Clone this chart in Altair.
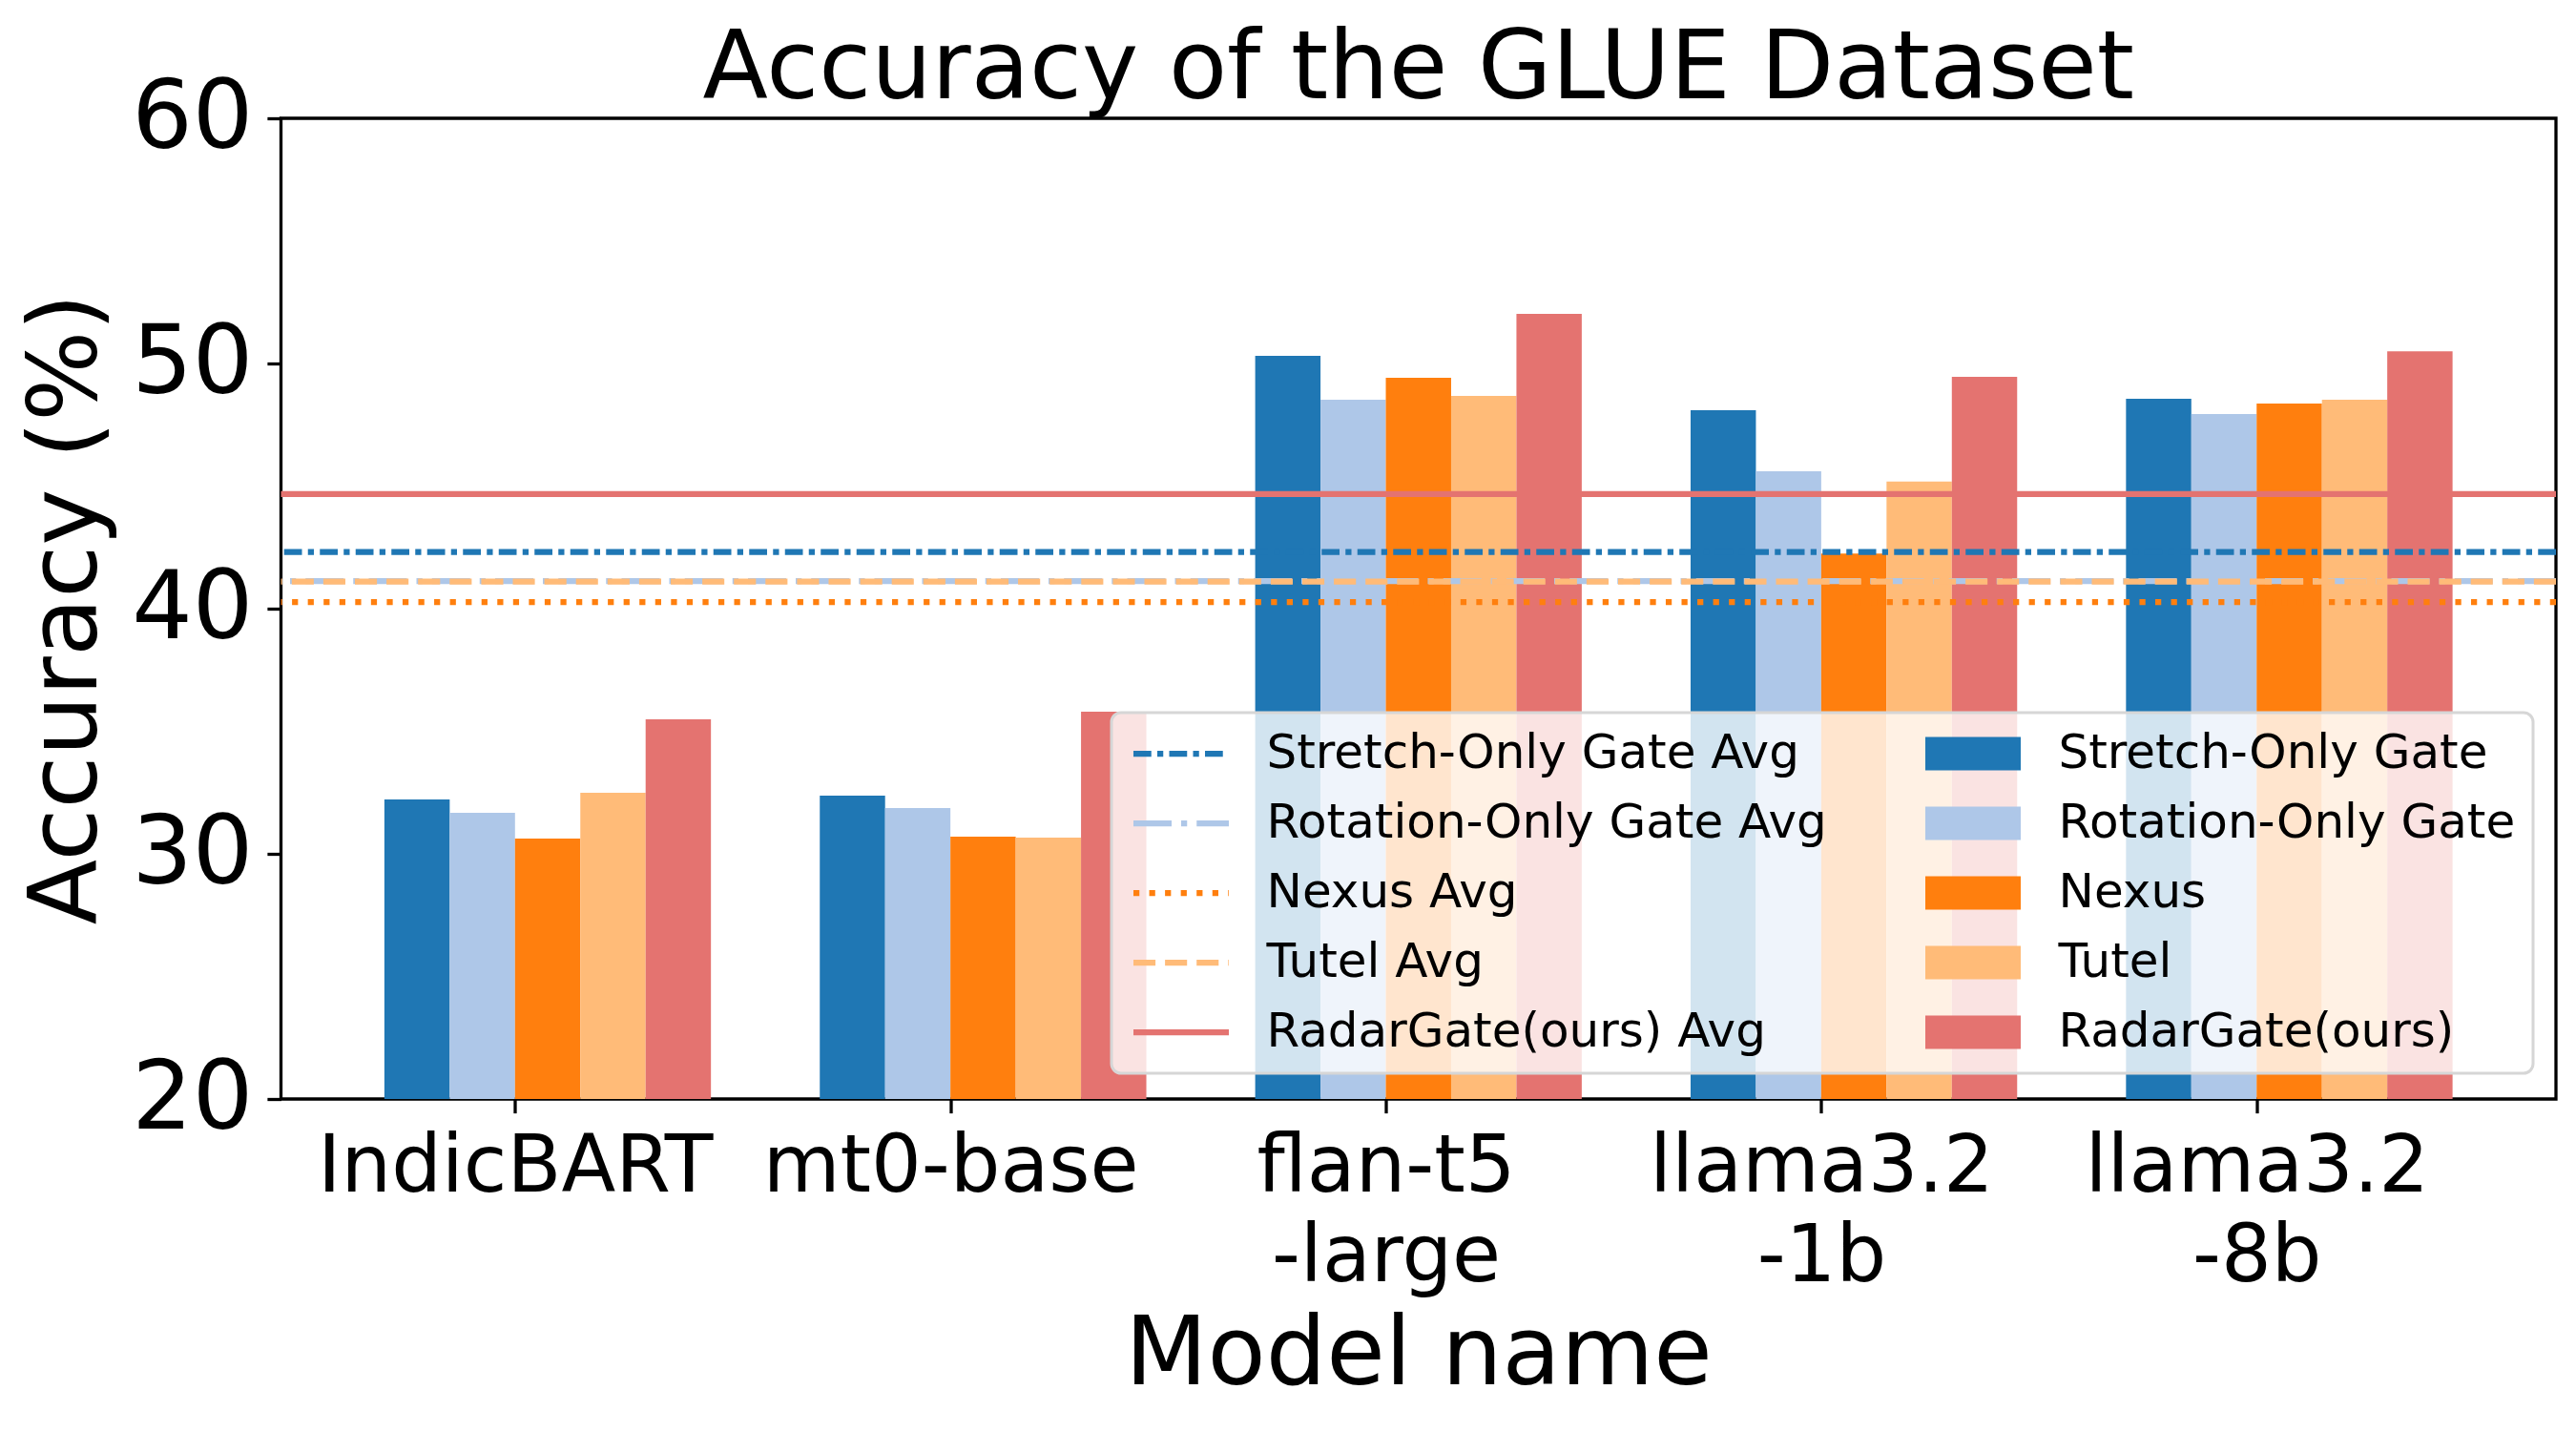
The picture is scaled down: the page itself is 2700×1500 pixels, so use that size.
import json
import altair as alt
import pandas as pd

# ---- data ----
model_names = ["IndicBART", "mt0-base", "flan-t5-large", "llama3.2-1b", "llama3.2-8b"]
model_lines = [["IndicBART"], ["mt0-base"], ["flan-t5", "-large"], ["llama3.2", "-1b"], ["llama3.2", "-8b"]]
series_names = ["Stretch-Only Gate", "Rotation-Only Gate", "Nexus", "Tutel", "RadarGate(ours)"]
stretch = [32.22, 32.37, 50.31, 48.09, 48.56]
rotation = [31.67, 31.87, 48.52, 45.60, 47.94]
nexus = [30.62, 30.70, 49.42, 42.25, 48.37]
tutel = [32.49, 30.66, 48.68, 45.18, 48.52]
radar = [35.49, 35.80, 52.02, 49.46, 50.50]
avg_names = ["Stretch-Only Gate Avg", "Rotation-Only Gate Avg", "Nexus Avg", "Tutel Avg", "RadarGate(ours) Avg"]
avg_values = [42.31, 41.12, 40.27, 41.10, 44.67]
y_ticks = [20, 30, 40, 50, 60]

# ---- styles ----
series_colors = ["#1f77b4", "#aec7e8", "#ff7f0e", "#ffbb78", "#e47370"]
avg_dashes = [[18.75, 6.25, 6.25, 6.25], [40, 10, 6.25, 10], [6.25, 10.3], [23.1, 10], [1, 0]]
FONT = "DejaVu Sans"

bar_values = [stretch, rotation, nexus, tutel, radar]
rows = []
for si, (name, vals) in enumerate(zip(series_names, bar_values)):
    for mi, (m, v) in enumerate(zip(model_names, vals)):
        rows.append({"model": m, "mi": mi, "key": name, "si": si, "value": v})
bars_df = pd.DataFrame(rows)
avg_df = pd.DataFrame({"key": avg_names, "value": avg_values})

# legend fills column by column: first column = average lines, second = bars
legend_domain = avg_names + series_names
color_range = series_colors + series_colors
dash_range = avg_dashes + [[1, 0]] * 5
width_range = [6.25] * 5 + [35] * 5

color_scale = alt.Scale(domain=legend_domain, range=color_range)
dash_scale = alt.Scale(type="ordinal", domain=legend_domain, range=dash_range)
width_scale = alt.Scale(type="ordinal", domain=legend_domain, range=width_range)

legend = alt.Legend(
    title=None, orient="none", legendX=870.5, legendY=623, columns=2,
    symbolType="stroke", symbolSize=10000, symbolOffset=-12.5, clipHeight=50,
    rowPadding=23, columnPadding=98, labelOffset=22,
    labelFontSize=50, labelFont=FONT, labelColor="black", labelLimit=3000,
    fillColor="rgba(255,255,255,0.8)", strokeColor="#d6d6d6",
    cornerRadius=10, padding=18, symbolOpacity=1,
)

x_scale = alt.Scale(domain=[-0.5375, 4.6875], nice=False, zero=False)
y_scale = alt.Scale(domain=[20, 60], nice=False, zero=False)

label_expr = json.dumps(model_lines) + "[datum.value]"

x_axis = alt.Axis(
    values=[0, 1, 2, 3, 4], labelExpr=label_expr, labelFont=FONT, labelFontSize=83,
    labelColor="black", tickSize=14.6, tickWidth=3.3, tickColor="black",
    labelBaseline="alphabetic", labelPadding=81.8, labelLineHeight=94, labelLimit=3000,
    labelOverlap=False, labelFlush=False, labelBound=False,
    title="Model name", titleFont=FONT, titleFontSize=100, titleFontWeight="normal",
    titleColor="black", titleX=1192, titleY=298.7, titleBaseline="alphabetic",
    titleAlign="center", titleLimit=3000, domain=False, grid=False,
)
y_axis = alt.Axis(
    values=y_ticks, labelFont=FONT, labelFontSize=100, labelColor="black",
    tickSize=14.6, tickWidth=3.3, tickColor="black", labelPadding=15, labelLimit=3000,
    labelBaseline="middle", labelOverlap=False, labelFlush=False,
    title="Accuracy (%)", titleFont=FONT, titleFontSize=100, titleFontWeight="normal",
    titleColor="black", titleX=-194.5, titleY=514, titleAngle=270, titleLimit=3000,
    titleBaseline="alphabetic", titleAlign="center", domain=False, grid=False,
)

bars = alt.Chart(bars_df).transform_calculate(
    x0="datum.mi + (datum.si - 2) * 0.15",
    x1="datum.mi + (datum.si - 1) * 0.15",
).mark_bar(strokeWidth=0).encode(
    x=alt.X("x0:Q", scale=x_scale, axis=x_axis),
    x2="x1:Q",
    y=alt.Y("value:Q", scale=y_scale, axis=y_axis),
    y2=alt.datum(20),
    color=alt.Color("key:N", scale=color_scale, legend=legend),
)

rules = alt.Chart(avg_df).mark_rule(strokeCap="butt").encode(
    y=alt.Y("value:Q", scale=y_scale),
    color=alt.Color("key:N", scale=color_scale, legend=legend),
    strokeDash=alt.StrokeDash("key:N", scale=dash_scale, legend=legend),
    strokeWidth=alt.StrokeWidth("key:N", scale=width_scale, legend=legend),
)

base = alt.layer(bars, rules).properties(
    width=2384.5, height=1028,
    autosize=alt.AutoSizeParams(type="none"),
    padding={"left": 286.5, "top": 116, "right": 10, "bottom": 340},
    title=alt.TitleParams(
        "Accuracy of the GLUE Dataset", font=FONT, fontSize=100, fontWeight="normal",
        color="black", anchor="middle", frame="group", baseline="alphabetic", offset=-129,
    ),
)

try:
    chart = base.configure(
        font=FONT, view=alt.ViewConfig(stroke="black", strokeWidth=3.3),
        legend=alt.LegendConfig(strokeWidth=3),
    )
    chart.to_dict()
except Exception:
    chart = base.configure(font=FONT, view=alt.ViewConfig(stroke="black", strokeWidth=3.3))

chart.save("out.html", embed_options={"renderer": "svg", "actions": False})
